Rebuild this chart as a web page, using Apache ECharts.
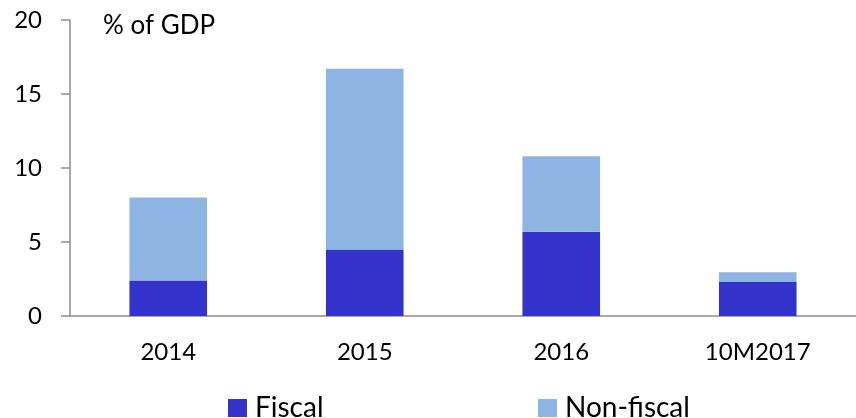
<!DOCTYPE html>
<html>
<head>
<meta charset="utf-8">
<script src="https://cdn.jsdelivr.net/npm/echarts@6/dist/echarts.min.js"></script>
<style>
html, body { margin: 0; padding: 0; background: #fff; }
#chart { width: 856px; height: 418px; }
</style>
</head>
<body>
<div id="chart"></div>
<script>
var categories = ['2014', '2015', '2016', '10M2017'];
var fiscal = [2.4, 4.5, 5.7, 2.3];
var nonFiscal = [5.6, 12.2, 5.1, 0.65];
var yTicks = [0, 5, 10, 15, 20];

var fontName = 'Lato, "Open Sans", sans-serif';
var chart = echarts.init(document.getElementById('chart'));

function legendAt(name, left) {
	return {
		data: [name],
		left: left,
		top: 389,
		itemWidth: 19,
		itemHeight: 18,
		icon: 'rect',
		textStyle: { fontSize: 28, color: '#000', fontFamily: fontName, padding: [0, 0, 0, 3] }
	};
}

var option = {
	animation: false,
	textStyle: { fontFamily: fontName },
	grid: { left: 70, top: 20, width: 792, height: 296 },
	legend: [legendAt('Fiscal', 223), legendAt('Non-fiscal', 533)],
	graphic: [{
		type: 'text',
		left: 103,
		top: 13,
		style: { text: '% of GDP', fontSize: 26, fill: '#000', fontFamily: fontName }
	}],
	xAxis: {
		type: 'category',
		data: categories,
		axisLine: { lineStyle: { color: '#8c8c8c', width: 1.5 } },
		axisTick: { show: false },
		axisLabel: { fontSize: 24, color: '#000', margin: 24, fontFamily: fontName }
	},
	yAxis: {
		type: 'value',
		min: yTicks[0],
		max: yTicks[yTicks.length - 1],
		interval: 5,
		splitLine: { show: false },
		axisLine: { show: true, lineStyle: { color: '#8c8c8c', width: 1.5 } },
		axisTick: { show: true, length: 9, lineStyle: { color: '#8c8c8c', width: 1.5 } },
		axisLabel: { fontSize: 24, color: '#000', margin: 28, fontFamily: fontName }
	},
	series: [{
		name: 'Fiscal',
		type: 'bar',
		stack: 'total',
		barWidth: '39.5%',
		itemStyle: { color: '#3333CC' },
		data: fiscal
	}, {
		name: 'Non-fiscal',
		type: 'bar',
		stack: 'total',
		barWidth: '39.5%',
		itemStyle: { color: '#8EB4E3' },
		data: nonFiscal
	}]
};
chart.setOption(option);
</script>
</body>
</html>
